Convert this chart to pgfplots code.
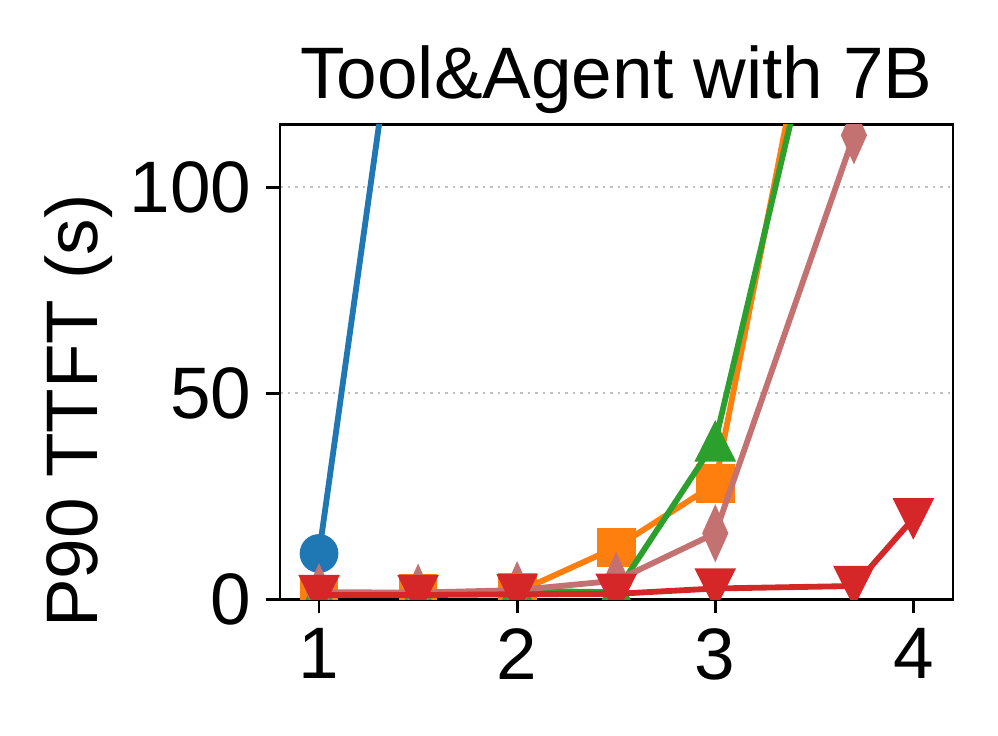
\documentclass[border=0pt]{standalone}
\usepackage{pgfplots}
\pgfplotsset{compat=1.18}
\usepackage{fontspec}
\setmainfont{Liberation Sans}
\definecolor{cblue}{HTML}{1F77B4}
\definecolor{corange}{HTML}{FF7F0E}
\definecolor{cgreen}{HTML}{2CA02C}
\definecolor{cred}{HTML}{D62728}
\definecolor{cpink}{HTML}{C47171}
\definecolor{gridgray}{HTML}{BFBFBF}
\begin{document}
\begin{tikzpicture}
\begin{axis}[
 name=ax,
 width=161.5pt, height=114pt, scale only axis,
 xmin=0.803, xmax=4.2, ymin=0, ymax=115.3,
 xtick={1,2,3,4}, ytick={0,50,100},
 tick align=outside, tick pos=left,
 major tick length=3.4pt,
 every tick/.style={black, line width=0.7pt},
 axis line style={line width=0.7pt},
 ymajorgrids,
 grid style={gridgray, line width=0.6pt, dash pattern=on 0.6pt off 1.2pt},
 tick label style={font=\fontsize{17.5}{20}\selectfont},
 /pgf/number format/assume math mode=true,
 title={Tool\&Agent with 7B},
 title style={font=\fontsize{17.5}{20}\selectfont, at={(axis description cs:0.5,1)}, anchor=base, yshift=0.2pt},
 ylabel={P90 TTFT (s)},
 ylabel style={font=\fontsize{17.5}{20}\selectfont, at={(axis description cs:-0.2706,0.396)}, anchor=base},
 clip marker paths=true,
 every axis plot/.append style={line width=1.4pt},
]
\addplot[cblue, mark=*, mark size=4.45pt, mark options={line width=0.4pt}] coordinates {(1,11.1) (1.5,183)};
\addplot[corange, mark=square*, mark size=4.45pt, mark options={line width=0.4pt}] coordinates {(1,1.1) (1.5,1.3) (2,1.7) (2.5,12.6) (3,28.0) (3.5,150)};
\addplot[cgreen, mark=triangle*, mark size=5.4pt, mark options={line width=0.4pt, yshift=-1.55pt, yscale=1.15}] coordinates {(1,1.2) (1.5,1.2) (2,2.0) (2.5,1.7) (3,38.3) (3.5,140)};
\addplot[cpink, mark=diamond*, mark size=6.5pt, mark options={line width=0.4pt, xscale=0.6}] coordinates {(1,1.7) (1.5,1.6) (2,2.2) (2.5,4.5) (3,16.0) (3.7,112.6)};
\addplot[cred, mark=triangle*, mark size=5.4pt, mark options={line width=0.4pt, yshift=1.55pt, rotate=180, yscale=1.15}] coordinates {(1,1.0) (1.5,1.0) (2,1.2) (2.5,1.3) (3,2.6) (3.7,3.2) (4,19.6)};
\end{axis}
\pgfresetboundingbox
\path[use as bounding box] (ax.south west) ++(-67.2pt,-32.6pt) rectangle ++(239.5pt,176.4pt);
\end{tikzpicture}
\end{document}
